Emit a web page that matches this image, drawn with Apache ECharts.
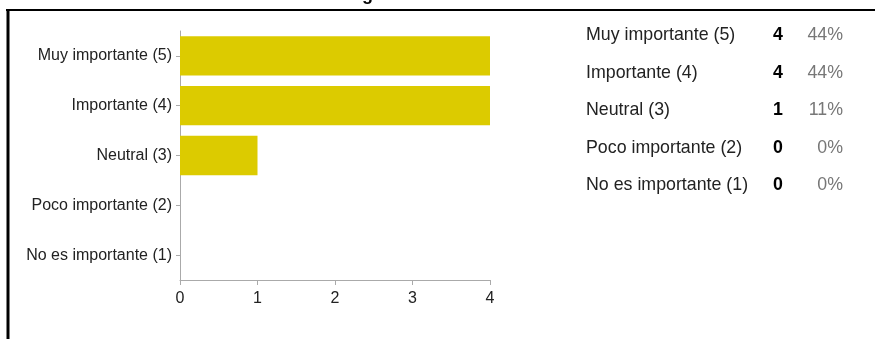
<!DOCTYPE html>
<html>
<head>
<meta charset="utf-8">
<script src="https://cdn.jsdelivr.net/npm/echarts@6/dist/echarts.min.js"></script>
<style>
html,body{margin:0;padding:0;background:#fff;}
#c{width:875px;height:339px;}
</style>
</head>
<body>
<div id="c"></div>
<script>
const categories = ['Muy importante (5)', 'Importante (4)', 'Neutral (3)', 'Poco importante (2)', 'No es importante (1)'];
const counts = [4, 4, 1, 0, 0];
const percents = ['44%', '44%', '11%', '0%', '0%'];
const xTicks = [0, 1, 2, 3, 4];

const FONT = '"Liberation Sans", Arial, sans-serif';
const chart = echarts.init(document.getElementById('c'), null, {renderer: 'canvas'});

const tableTop = 35.5, rowGap = 37.5;
const graphics = [
  {type: 'line', shape: {x1: 6, y1: 10, x2: 875, y2: 10}, style: {stroke: '#000', lineWidth: 2}},
  {type: 'line', shape: {x1: 8, y1: 9, x2: 8, y2: 339}, style: {stroke: '#000', lineWidth: 3}},
  {type: 'text', left: 362, top: -14, style: {text: 'g', font: 'bold 18px ' + FONT, fill: '#000'}}
];
categories.forEach((c, i) => {
  const y = tableTop + i * rowGap;
  graphics.push({type: 'text', x: 586, y: y, style: {text: c, font: '17.8px ' + FONT, fill: '#222', textAlign: 'left', textVerticalAlign: 'middle'}});
  graphics.push({type: 'text', x: 783, y: y, style: {text: String(counts[i]), font: 'bold 17.8px ' + FONT, fill: '#000', textAlign: 'right', textVerticalAlign: 'middle'}});
  graphics.push({type: 'text', x: 843, y: y, style: {text: percents[i], font: '17.8px ' + FONT, fill: '#777', textAlign: 'right', textVerticalAlign: 'middle'}});
});

chart.setOption({
  animation: false,
  backgroundColor: '#fff',
  grid: {left: 180, right: 385, top: 31, bottom: 59, containLabel: false},
  xAxis: {
    type: 'value', min: 0, max: 4, interval: 1,
    axisLine: {show: true, lineStyle: {color: '#aaa', width: 1}},
    axisTick: {show: true, length: 5, lineStyle: {color: '#aaa'}},
    splitLine: {show: false},
    axisLabel: {color: '#222', fontSize: 16, fontFamily: FONT, margin: 11,
      formatter: v => xTicks.includes(v) ? String(v) : ''}
  },
  yAxis: {
    type: 'category', data: categories, inverse: true,
    axisLine: {show: true, lineStyle: {color: '#aaa', width: 1}},
    axisTick: {show: true, alignWithLabel: true, length: 4, lineStyle: {color: '#aaa'}},
    axisLabel: {color: '#222', fontSize: 16, fontFamily: FONT, margin: 8}
  },
  series: [{
    type: 'bar', data: counts, barWidth: '79%',
    itemStyle: {color: '#DCCB00'}
  }],
  graphic: graphics
});
</script>
</body>
</html>
